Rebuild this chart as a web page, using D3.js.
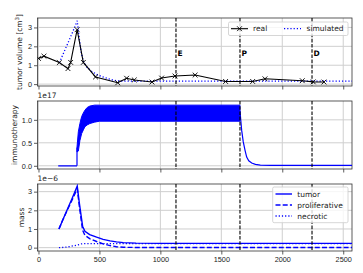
<!DOCTYPE html>
<html lang="en">
<head>
    <meta charset="UTF-8">
    <title>Tumor volume, immunotherapy and mass</title>
    <script src="https://d3js.org/d3.v7.min.js"></script>
    <style>
        body { margin: 0; background: #fff; }
        svg { display: block; font-family: "DejaVu Sans", sans-serif; }
        .tick text { font-size: 7.3px; fill: #222; }
        .lbl { font-size: 7.5px; fill: #222; }
    </style>
</head>
<body>
    <svg id="chart" width="363" height="273"></svg>

    <script>
        // tumor volume [cm3], measured points
        const realT = [0, 45, 171, 242, 264, 317, 368, 468, 650, 723, 786, 931, 1010, 1120, 1285, 1535, 1757, 1858, 2164, 2254, 2342];
        const realV = [1.36, 1.48, 1.14, 0.82, 1.15, 2.88, 1.15, 0.38, 0.07, 0.31, 0.22, 0.11, 0.32, 0.43, 0.48, 0.14, 0.14, 0.28, 0.18, 0.12, 0.11];

        // simulated tumor volume
        const simT = [171, 240, 280, 318, 335, 350, 368, 400, 440, 477, 520, 570, 614, 650, 700, 800, 1200, 1800, 2572];
        const simV = [1.13, 2.15, 2.75, 3.35, 2.4, 1.7, 1.2, 0.88, 0.66, 0.52, 0.40, 0.29, 0.21, 0.17, 0.16, 0.16, 0.16, 0.16, 0.16];

        // immunotherapy (x1e17): off period, oscillating band envelopes, washout after P
        const offT = [162, 316];
        const offV = [0, 0];
        const bandT = [316, 327, 340, 354, 368, 381, 400, 422, 460, 500, 1653];
        const bandHi = [0.40, 0.74, 0.92, 1.07, 1.15, 1.21, 1.27, 1.30, 1.32, 1.32, 1.32];
        const bandLo = [0.30, 0.32, 0.55, 0.70, 0.78, 0.85, 0.89, 0.92, 0.95, 0.97, 0.97];
        const decayT = [1653, 1660, 1667, 1680, 1695, 1708, 1725, 1749, 1780, 1820, 1900, 2572];
        const decayV = [1.20, 0.98, 0.77, 0.52, 0.33, 0.19, 0.11, 0.06, 0.03, 0.015, 0.008, 0.008];

        // mass (x1e-6)
        const massT = [168, 200, 240, 280, 318, 335, 350, 362, 381, 420, 477, 530, 587, 640, 696, 800, 1000, 1500, 2000, 2572];
        const tumorM = [1.0, 1.5, 2.1, 2.7, 3.3, 2.4, 1.7, 1.15, 0.88, 0.70, 0.56, 0.44, 0.36, 0.31, 0.27, 0.24, 0.23, 0.23, 0.23, 0.23];
        const prolifM = [1.0, 1.49, 2.06, 2.61, 3.16, 2.23, 1.50, 0.94, 0.66, 0.48, 0.33, 0.20, 0.11, 0.05, 0.02, 0.01, 0.01, 0.01, 0.01, 0.01];
        const necroM = [0, 0.01, 0.04, 0.09, 0.14, 0.17, 0.20, 0.21, 0.22, 0.22, 0.22, 0.22, 0.22, 0.22, 0.22, 0.22, 0.22, 0.22, 0.22, 0.22];

        // event markers
        const events = [1128, 1653, 2244];
        const eventNames = ["E", "P", "D"];

        const xTicks = [0, 500, 1000, 1500, 2000, 2500];

        const svg = d3.select("#chart");
        const left = 37.5, right = 352;

        const x = d3.scaleLinear().domain([-8, 2572]).range([left, right]);

        const panels = [
            { top: 18, bottom: 86, dom: [-0.1, 3.5], ticks: [0, 1, 2, 3], fmt: d3.format("d"), label: "tumor volume [cm", sup: "3", lx: 21.5 },
            { top: 101, bottom: 169, dom: [-0.07, 1.41], ticks: [0, 0.5, 1.0], fmt: d3.format(".1f"), label: "immunotherapy", lx: 16.5, offset: "1e17" },
            { top: 184, bottom: 251, dom: [-0.18, 3.41], ticks: [0, 1, 2, 3], fmt: d3.format("d"), label: "mass", lx: 23.5, offset: "1e\u22126" }
        ];

        panels.forEach((p, i) => {
            p.y = d3.scaleLinear().domain(p.dom).range([p.bottom, p.top]);
            const g = svg.append("g");
            p.g = g;

            // grid
            g.append("g").selectAll("line").data(xTicks).enter().append("line")
                .attr("x1", d => x(d)).attr("x2", d => x(d))
                .attr("y1", p.top).attr("y2", p.bottom)
                .attr("stroke", "#cfcfcf").attr("stroke-width", 1);
            g.append("g").selectAll("line").data(p.ticks).enter().append("line")
                .attr("x1", left).attr("x2", right)
                .attr("y1", d => p.y(d)).attr("y2", d => p.y(d))
                .attr("stroke", "#cfcfcf").attr("stroke-width", 1);

            // axes
            const ya = g.append("g").attr("transform", `translate(${left},0)`)
                .call(d3.axisLeft(p.y).tickValues(p.ticks).tickFormat(p.fmt).tickSize(3.5).tickPadding(2));
            const xa = g.append("g").attr("transform", `translate(0,${p.bottom})`)
                .call(d3.axisBottom(x).tickValues(xTicks).tickSize(3.5).tickPadding(2)
                    .tickFormat(i === 2 ? d3.format("d") : ""));
            [ya, xa].forEach(a => {
                a.select(".domain").remove();
                a.selectAll(".tick line").attr("stroke", "#333").attr("stroke-width", 0.8);
            });

            // frame
            g.append("rect").attr("x", left).attr("y", p.top)
                .attr("width", right - left).attr("height", p.bottom - p.top)
                .attr("fill", "none").attr("stroke", "#333").attr("stroke-width", 0.8);

            // y label
            const t = g.append("text").attr("class", "lbl")
                .attr("transform", `translate(${p.lx},${(p.top + p.bottom) / 2}) rotate(-90)`)
                .attr("text-anchor", "middle").text(p.label);
            if (p.sup) {
                t.append("tspan").attr("dy", -3).attr("font-size", "5.5px").text(p.sup);
                t.append("tspan").attr("dy", 3).text("]");
            }
            if (p.offset) {
                g.append("text").attr("class", "lbl").attr("x", left).attr("y", p.top - 3.5)
                    .text(p.offset);
            }
        });

        const clipId = (i) => "clip" + i;
        const defs = svg.append("defs");
        panels.forEach((p, i) => {
            defs.append("clipPath").attr("id", clipId(i)).append("rect")
                .attr("x", left).attr("y", p.top).attr("width", right - left).attr("height", p.bottom - p.top);
            p.plot = svg.append("g").attr("clip-path", `url(#${clipId(i)})`);
        });

        const lineOf = (ts, vs, y) => d3.line()
            .x((d, k) => x(ts[k]))
            .y(d => y(d))(vs);

        // ---- panel 1: tumor volume
        const p1 = panels[0];
        p1.plot.append("path").attr("d", lineOf(simT, simV, p1.y))
            .attr("fill", "none").attr("stroke", "blue").attr("stroke-width", 1.3)
            .attr("stroke-dasharray", "1.2,2");
        p1.plot.append("path").attr("d", lineOf(realT, realV, p1.y))
            .attr("fill", "none").attr("stroke", "black").attr("stroke-width", 1.1);
        const cross = "M-2.4,-2.4L2.4,2.4M-2.4,2.4L2.4,-2.4";
        p1.plot.selectAll(".mk").data(realV).enter().append("path")
            .attr("d", cross)
            .attr("transform", (d, k) => `translate(${x(realT[k])},${p1.y(d)})`)
            .attr("stroke", "black").attr("stroke-width", 0.9);

        // ---- panel 2: immunotherapy
        const p2 = panels[1];
        p2.plot.append("path").attr("d", lineOf(offT, offV, p2.y))
            .attr("fill", "none").attr("stroke", "blue").attr("stroke-width", 1.2);
        const band = d3.area()
            .x((d, k) => x(bandT[k]))
            .y0((d, k) => p2.y(bandLo[k]))
            .y1(d => p2.y(d));
        p2.plot.append("path").attr("d", band(bandHi))
            .attr("fill", "blue").attr("stroke", "blue").attr("stroke-width", 1);
        p2.plot.append("line")
            .attr("x1", x(offT[1])).attr("x2", x(offT[1]))
            .attr("y1", p2.y(0)).attr("y2", p2.y(bandHi[0]))
            .attr("stroke", "blue").attr("stroke-width", 1.2);
        p2.plot.append("path").attr("d", lineOf(decayT, decayV, p2.y))
            .attr("fill", "none").attr("stroke", "blue").attr("stroke-width", 1.2);

        // ---- panel 3: mass
        const p3 = panels[2];
        p3.plot.append("path").attr("d", lineOf(massT, tumorM, p3.y))
            .attr("fill", "none").attr("stroke", "blue").attr("stroke-width", 1.4);
        p3.plot.append("path").attr("d", lineOf(massT, prolifM, p3.y))
            .attr("fill", "none").attr("stroke", "blue").attr("stroke-width", 1.4)
            .attr("stroke-dasharray", "5,2.2");
        p3.plot.append("path").attr("d", lineOf(massT, necroM, p3.y))
            .attr("fill", "none").attr("stroke", "blue").attr("stroke-width", 1.3)
            .attr("stroke-dasharray", "1.2,2");

        // ---- event lines in every panel
        panels.forEach(p => {
            p.plot.selectAll(".ev").data(events).enter().append("line")
                .attr("x1", d => x(d)).attr("x2", d => x(d))
                .attr("y1", p.top).attr("y2", p.bottom)
                .attr("stroke", "black").attr("stroke-width", 1.1)
                .attr("stroke-dasharray", "3.6,1.6");
        });
        svg.selectAll(".evname").data(events).enter().append("text")
            .attr("x", d => x(d) + 1.5).attr("y", 56)
            .attr("font-size", "7.5px").attr("font-weight", "bold")
            .text((d, k) => eventNames[k]);

        // ---- legend 1
        const lg1 = svg.append("g");
        lg1.append("rect").attr("x", 228.5).attr("y", 22).attr("width", 119.5).attr("height", 13.5)
            .attr("rx", 1.5).attr("fill", "rgba(255,255,255,0.8)").attr("stroke", "#ccc").attr("stroke-width", 0.8);
        lg1.append("line").attr("x1", 231).attr("x2", 248).attr("y1", 28.7).attr("y2", 28.7)
            .attr("stroke", "black").attr("stroke-width", 1.1);
        lg1.append("path").attr("d", cross).attr("transform", "translate(239.5,28.7)")
            .attr("stroke", "black").attr("stroke-width", 0.9);
        lg1.append("text").attr("class", "lbl").attr("x", 253).attr("y", 31.4).text("real");
        lg1.append("line").attr("x1", 284).attr("x2", 301).attr("y1", 28.7).attr("y2", 28.7)
            .attr("stroke", "blue").attr("stroke-width", 1.3).attr("stroke-dasharray", "1.2,2");
        lg1.append("text").attr("class", "lbl").attr("x", 306.5).attr("y", 31.4).text("simulated");

        // ---- legend 3
        const lg3 = svg.append("g");
        lg3.append("rect").attr("x", 272.7).attr("y", 187).attr("width", 75.3).attr("height", 35.7)
            .attr("rx", 1.5).attr("fill", "rgba(255,255,255,0.8)").attr("stroke", "#ccc").attr("stroke-width", 0.8);
        const l3 = [
            { name: "tumor", dash: null, w: 1.4 },
            { name: "proliferative", dash: "5,2.2", w: 1.4 },
            { name: "necrotic", dash: "1.2,2", w: 1.3 }
        ];
        l3.forEach((d, k) => {
            const yy = 194 + k * 11;
            lg3.append("line").attr("x1", 275.5).attr("x2", 292).attr("y1", yy).attr("y2", yy)
                .attr("stroke", "blue").attr("stroke-width", d.w)
                .attr("stroke-dasharray", d.dash);
            lg3.append("text").attr("class", "lbl").attr("x", 297.3).attr("y", yy + 2.7).text(d.name);
        });
    </script>
</body>
</html>
